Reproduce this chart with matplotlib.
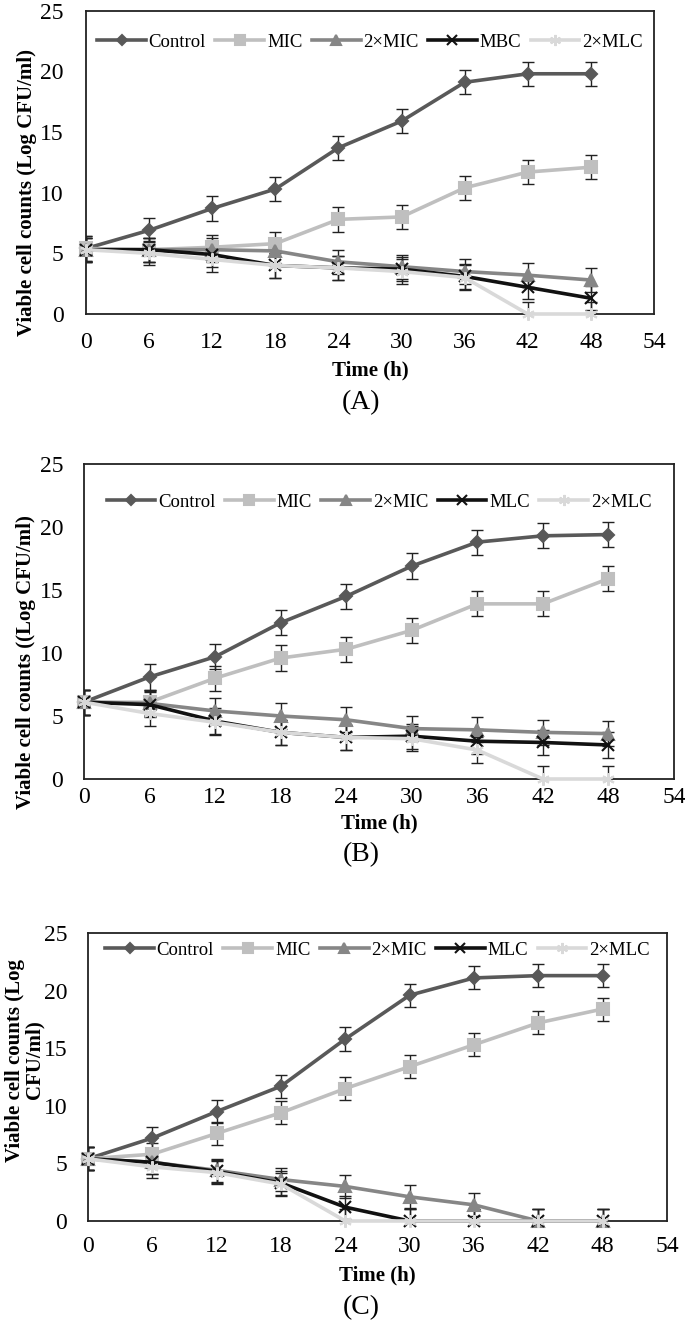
import matplotlib
matplotlib.use("Agg")
import matplotlib.pyplot as plt
from matplotlib.lines import Line2D

plt.rcParams['font.family'] = ['Liberation Serif', 'DejaVu Serif']

time_h = [0, 6, 12, 18, 24, 30, 36, 42, 48]
x_ticks = [0, 6, 12, 18, 24, 30, 36, 42, 48, 54]
y_ticks = [0, 5, 10, 15, 20, 25]

# Panel A
a_control = [5.4, 6.9, 8.7, 10.3, 13.7, 15.9, 19.1, 19.8, 19.8]
a_mic = [5.4, 5.3, 5.5, 5.8, 7.8, 8.0, 10.4, 11.7, 12.1]
a_2mic = [5.3, 5.3, 5.3, 5.2, 4.3, 3.9, 3.5, 3.2, 2.8]
a_mbc = [5.3, 5.3, 4.9, 4.0, 3.8, 3.7, 3.1, 2.2, 1.3]
a_2mlc = [5.3, 5.0, 4.5, 4.0, 3.8, 3.5, 3.0, 0.0, 0.0]

# Panel B
b_control = [6.1, 8.1, 9.7, 12.4, 14.5, 16.9, 18.8, 19.3, 19.4]
b_mic = [6.1, 6.1, 8.0, 9.6, 10.3, 11.8, 13.9, 13.9, 15.9]
b_2mic = [6.1, 6.0, 5.4, 5.0, 4.7, 4.0, 3.9, 3.7, 3.6]
b_mlc = [6.1, 5.9, 4.6, 3.7, 3.3, 3.4, 3.0, 2.9, 2.7]
b_2mlc = [6.1, 5.2, 4.5, 3.7, 3.3, 3.2, 2.3, 0.0, 0.0]

# Panel C
c_control = [5.4, 7.2, 9.5, 11.7, 15.8, 19.6, 21.1, 21.3, 21.3]
c_mic = [5.4, 5.8, 7.6, 9.4, 11.5, 13.4, 15.3, 17.2, 18.4]
c_2mic = [5.4, 5.1, 4.4, 3.6, 3.0, 2.1, 1.4, 0.0, 0.0]
c_mlc = [5.4, 5.1, 4.3, 3.3, 1.2, 0.0, 0.0, 0.0, 0.0]
c_2mlc = [5.4, 4.7, 4.2, 3.2, 0.0, 0.0, 0.0, 0.0, 0.0]

err = 1.0

labels_a = ['Control', 'MIC', '2×MIC', 'MBC', '2×MLC']
labels_bc = ['Control', 'MIC', '2×MIC', 'MLC', '2×MLC']
ylabel_a = 'Viable cell counts (Log CFU/ml)'
ylabel_b = 'Viable cell counts ((Log CFU/ml)'
ylabel_c = 'Viable cell counts (Log\nCFU/ml)'
xlabel = 'Time (h)'
panel_tags = ['(A)', '(B)', '(C)']

colors = ['#595959', '#bfbfbf', '#868686', '#111111', '#d9d9d9']
markers = ['D', 's', '^', 'x', (6, 2, 0)]
msizes = [6, 8, 8, 8, 9]

W, H = 685, 1323
fig = plt.figure(figsize=(W / 100, H / 100), dpi=100)

# frame px: left, right, top, bottom ; text px positions
panels = [
    dict(frame=(86, 654, 10.7, 314), series=[a_control, a_mic, a_2mic, a_mbc, a_2mlc],
         labels=labels_a, ylabel=ylabel_a, ylab_xy=(27, 193), xl_y=370, tag_y=403,
         xpad=13, ypad=16, leg_y=42),
    dict(frame=(84, 674, 464, 779), series=[b_control, b_mic, b_2mic, b_mlc, b_2mlc],
         labels=labels_bc, ylabel=ylabel_b, ylab_xy=(26, 662), xl_y=823, tag_y=855,
         xpad=6, ypad=15, leg_y=502),
    dict(frame=(88, 667, 933, 1221), series=[c_control, c_mic, c_2mic, c_mlc, c_2mlc],
         labels=labels_bc, ylabel=ylabel_c, ylab_xy=(25, 1060), xl_y=1275, tag_y=1308,
         xpad=11, ypad=15, leg_y=950),
]

for p, tag in zip(panels, panel_tags):
    l, r, t, b = p['frame']
    ax = fig.add_axes([l / W, 1 - b / H, (r - l) / W, (b - t) / H])
    series = p['series']
    for i in [4, 3, 2, 1, 0]:
        ys = series[i]
        ax.errorbar(time_h, ys, yerr=err, fmt='none', ecolor='#222222',
                    elinewidth=1.0, capsize=4, capthick=1.0, zorder=2 + i * 0.1)
        ax.plot(time_h, ys, color=colors[i], lw=2.6, marker=markers[i],
                ms=msizes[i], mec=colors[i], mfc=colors[i], mew=1.5,
                zorder=3 + i * 0.1, clip_on=False)
    ax.set_xlim(0, 54)
    ax.set_ylim(0, 25)
    ax.set_xticks(x_ticks)
    ax.set_yticks(y_ticks)
    ax.tick_params(axis='both', length=0, labelsize=17)
    ax.tick_params(axis='y', pad=p['ypad'])
    ax.tick_params(axis='x', pad=p['xpad'])
    for s in ax.spines.values():
        s.set_linewidth(1.3)
        s.set_color('#222222')
    handles = [Line2D([], [], color=colors[i], lw=2.6, marker=markers[i],
                      ms=msizes[i] - 1, mec=colors[i], mfc=colors[i], mew=1.5)
               for i in range(5)]
    leg_frac = (b - p['leg_y']) / (b - t)
    ax.legend(handles, p['labels'], loc='center', ncol=5, frameon=False,
              fontsize=13.5, handlelength=2.6, columnspacing=0.5,
              handletextpad=0.15, bbox_to_anchor=(0.5, leg_frac), borderaxespad=0)
    lx, ly = p['ylab_xy']
    fig.text(lx / W, 1 - ly / H, p['ylabel'], rotation=90, ha='center', va='center',
             fontsize=15, fontweight='bold', linespacing=0.95, multialignment='center')
    cx = (l + r) / 2 / W
    fig.text(cx, 1 - p['xl_y'] / H, xlabel, ha='center', va='center',
             fontsize=15, fontweight='bold')
    fig.text(0.527, 1 - p['tag_y'] / H, tag, ha='center', va='center', fontsize=20)

fig.savefig('out.png', dpi=100)
